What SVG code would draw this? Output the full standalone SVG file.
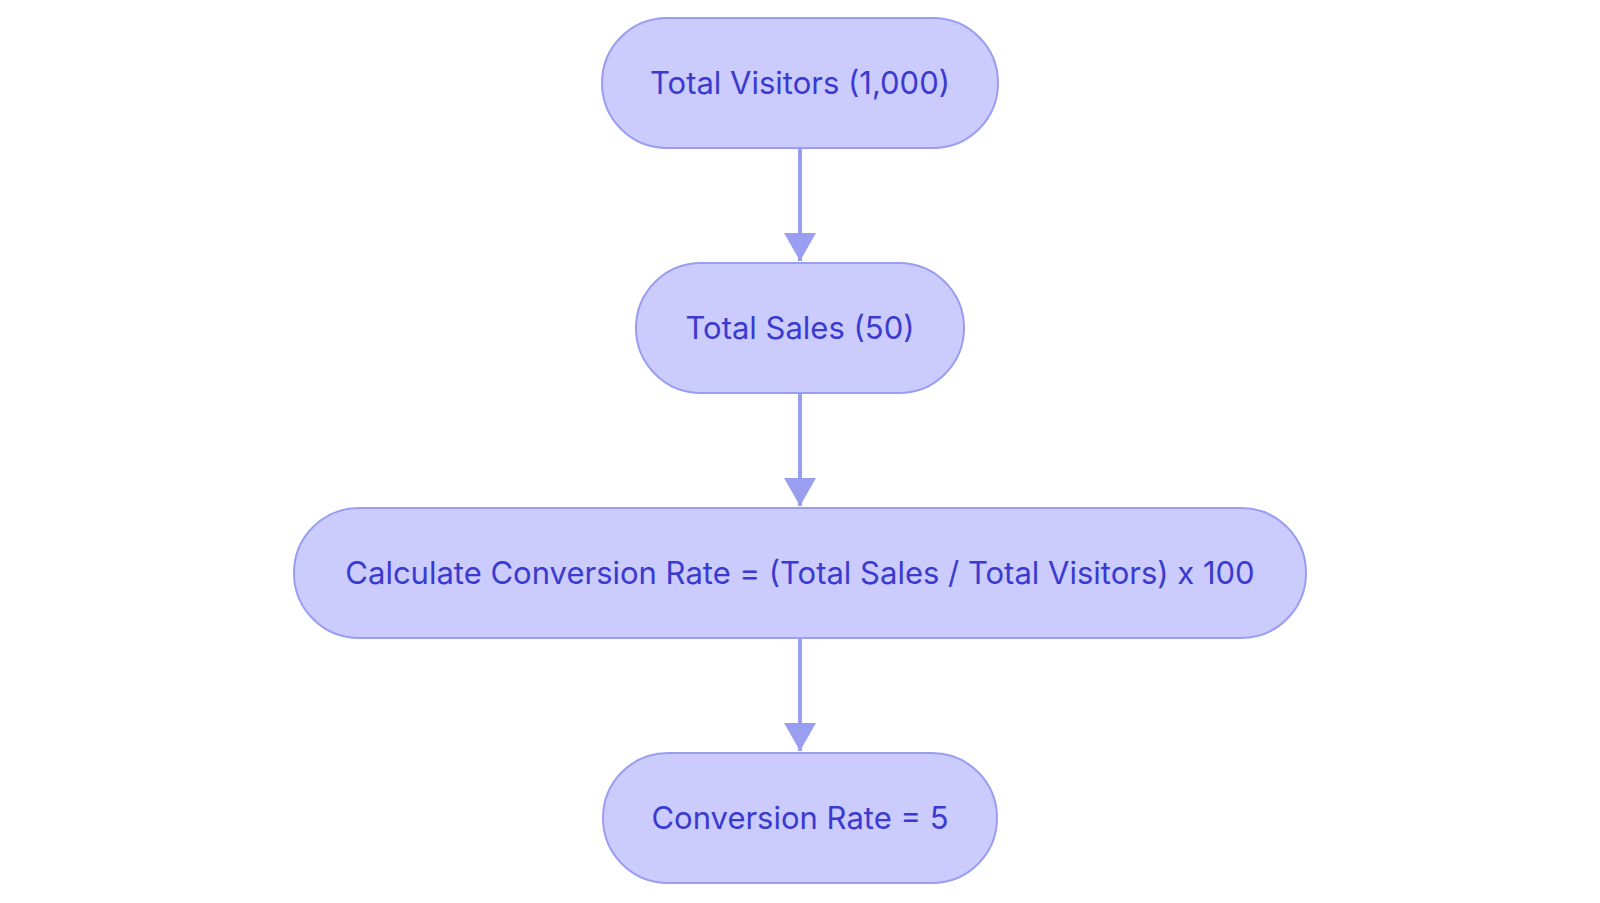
<svg xmlns="http://www.w3.org/2000/svg" width="1600" height="903" viewBox="0 0 1600 903">
<style>
.n{fill:#cbcbfd;stroke:#9a9ef0;stroke-width:2}
.t{font-family:Inter,"Liberation Sans",sans-serif;font-size:31px;fill:#3a3ad0;text-anchor:middle;dominant-baseline:central}
.c{stroke:#9a9ef0;stroke-width:4;fill:none}
</style>
<defs><marker id="a" markerWidth="8" markerHeight="8" refX="7" refY="4" orient="auto" markerUnits="strokeWidth"><path d="M0,0L7,4L0,8z" fill="#9a9ef0"/></marker></defs>
<rect width="1600" height="903" fill="#fff"/>
<g id="connectors">
<path class="c" d="M800,149V261" marker-end="url(#a)"/>
<path class="c" d="M800,394V506" marker-end="url(#a)"/>
<path class="c" d="M800,639V751" marker-end="url(#a)"/>
</g>
<g id="n1"><rect class="n" x="602" y="18" width="396" height="130" rx="65"/><text class="t" x="800" y="82">Total Visitors (1,000)</text></g>
<g id="n2"><rect class="n" x="636" y="263" width="328" height="130" rx="65"/><text class="t" x="800" y="327">Total Sales (50)</text></g>
<g id="n3"><rect class="n" x="294" y="508" width="1012" height="130" rx="65"/><text class="t" x="800" y="572">Calculate Conversion Rate = (Total Sales / Total Visitors) x 100</text></g>
<g id="n4"><rect class="n" x="603" y="753" width="394" height="130" rx="65"/><text class="t" x="800" y="817">Conversion Rate = 5</text></g>
</svg>
